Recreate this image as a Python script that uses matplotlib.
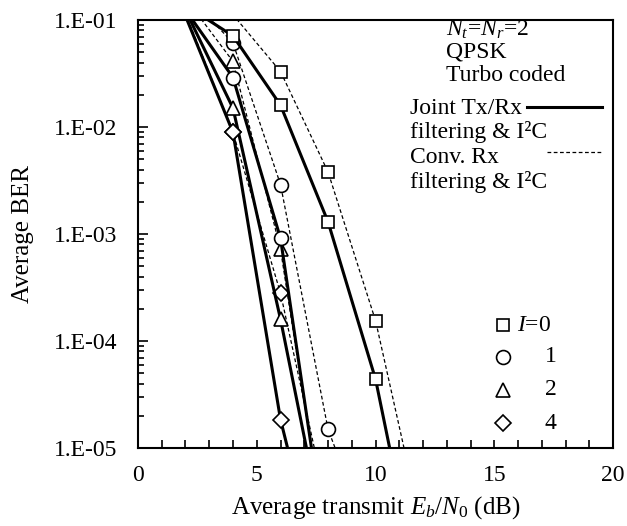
import numpy as np
import matplotlib
matplotlib.use("Agg")
import matplotlib.pyplot as plt
from matplotlib.ticker import FixedLocator, FuncFormatter, LogLocator, NullFormatter

plt.rcParams['font.family'] = ['Liberation Serif', 'DejaVu Serif']
plt.rcParams['mathtext.fontset'] = 'custom'
plt.rcParams['mathtext.rm'] = 'Liberation Serif'
plt.rcParams['mathtext.it'] = 'Liberation Serif:italic'

# Eb/N0 points (dB)
snr = [2, 4, 6, 8, 10, 12]

# joint Tx/Rx filtering & I2C (solid)
joint_I0 = [0.137, 0.071, 0.016, 1.3e-3, 4.4e-5, 3e-7]
joint_I1 = [0.124, 0.029, 9.1e-4, 9e-7, 1e-8, 1e-9]
joint_I2 = [0.123, 0.015, 1.6e-4, 1e-6, 1e-8, 1e-9]
joint_I4 = [0.109, 0.0089, 1.85e-5, 3e-7, 1e-8, 1e-9]

# conventional Rx filtering & I2C (dashed)
conv_I0 = [0.2, 0.112, 0.033, 3.8e-3, 1.55e-4, 1.6e-6]
conv_I1 = [0.18, 0.061, 2.9e-3, 1.5e-5, 1e-6, 1e-8]
conv_I2 = [0.16, 0.041, 7.2e-4, 1e-6, 1e-8, 1e-9]
conv_I4 = [0.115, 0.0089, 2.8e-4, 2.6e-6, 1e-8, 1e-9]

iter_labels = ['$I$=0', '1', '2', '4']
markers = ['s', 'o', '^', 'D']
msizes = [9, 10, 10, 8]

fig = plt.figure(figsize=(6.27, 5.26), dpi=100)
ax = fig.add_axes([0.220, 0.148, 0.758, 0.814])

joint = [joint_I0, joint_I1, joint_I2, joint_I4]
conv = [conv_I0, conv_I1, conv_I2, conv_I4]


def shown(vals):
    # markers only where the point lies inside the plotted BER range
    return [i for i, v in enumerate(vals) if 1e-5 <= v <= 0.1]


for k in range(4):
    ax.plot(snr, conv[k], color='black', lw=0.9, ls=(0, (3, 2)),
            marker=markers[k], ms=msizes[k], mfc='white', mec='black', mew=1.2,
            markevery=shown(conv[k]), zorder=2)
for k in range(4):
    ax.plot(snr, joint[k], color='black', lw=2.2, ls='-',
            marker=markers[k], ms=msizes[k], mfc='white', mec='black', mew=1.2,
            markevery=shown(joint[k]), zorder=3)

ax.set_yscale('log')
ax.set_xlim(0, 20)
ax.set_ylim(1e-5, 1e-1)

ax.xaxis.set_major_locator(FixedLocator([0, 5, 10, 15, 20]))
ax.xaxis.set_minor_locator(FixedLocator(np.arange(0, 21, 1)))
ax.yaxis.set_major_locator(LogLocator(base=10, numticks=10))
ax.yaxis.set_minor_locator(LogLocator(base=10, subs=np.arange(2, 10), numticks=10))
ax.yaxis.set_minor_formatter(NullFormatter())
ax.yaxis.set_major_formatter(FuncFormatter(lambda v, p: '1.E-%02d' % round(-np.log10(v))))

ax.tick_params(axis='both', which='both', direction='in', top=False, right=False,
               labelsize=17, width=1.2)
ax.tick_params(axis='x', which='both', length=6, pad=12)
ax.tick_params(axis='y', which='major', length=7, pad=15)
ax.tick_params(axis='y', which='minor', length=4)
for s in ax.spines.values():
    s.set_linewidth(1.5)

ax.set_xlabel('Average transmit $E_b$/$N_0$ (dB)', fontsize=18, labelpad=6)
ax.set_ylabel('Average BER', fontsize=18, labelpad=14)

tr = ax.transAxes
fs = 17
ax.text(0.648, 0.977, '$N_t$=$N_r$=2', transform=tr, fontsize=fs, va='center', ha='left')
ax.text(0.648, 0.925, 'QPSK', transform=tr, fontsize=fs, va='center', ha='left')
ax.text(0.648, 0.871, 'Turbo coded', transform=tr, fontsize=fs, va='center', ha='left')
ax.text(0.573, 0.794, 'Joint Tx/Rx', transform=tr, fontsize=fs, va='center', ha='left')
ax.text(0.573, 0.738, 'filtering & I\u00b2C', transform=tr, fontsize=fs, va='center', ha='left')
ax.text(0.573, 0.680, 'Conv. Rx', transform=tr, fontsize=fs, va='center', ha='left')
ax.text(0.573, 0.621, 'filtering & I\u00b2C', transform=tr, fontsize=fs, va='center', ha='left')
ax.plot([0.818, 0.977], [0.797, 0.797], transform=tr, color='black', lw=2.2)
ax.plot([0.861, 0.977], [0.692, 0.692], transform=tr, color='black', lw=0.9, ls=(0, (3, 2)))

rows = [0.287, 0.213, 0.136, 0.058]
for k in range(4):
    ax.plot([0.768], [rows[k]], transform=tr, marker=markers[k], ms=msizes[k],
            mfc='white', mec='black', mew=1.2, ls='none')
    if k == 0:
        ax.text(0.798, rows[k], iter_labels[k], transform=tr, fontsize=fs, va='center', ha='left')
    else:
        ax.text(0.868, rows[k], iter_labels[k], transform=tr, fontsize=fs, va='center', ha='center')

fig.savefig('out.png', dpi=100)
